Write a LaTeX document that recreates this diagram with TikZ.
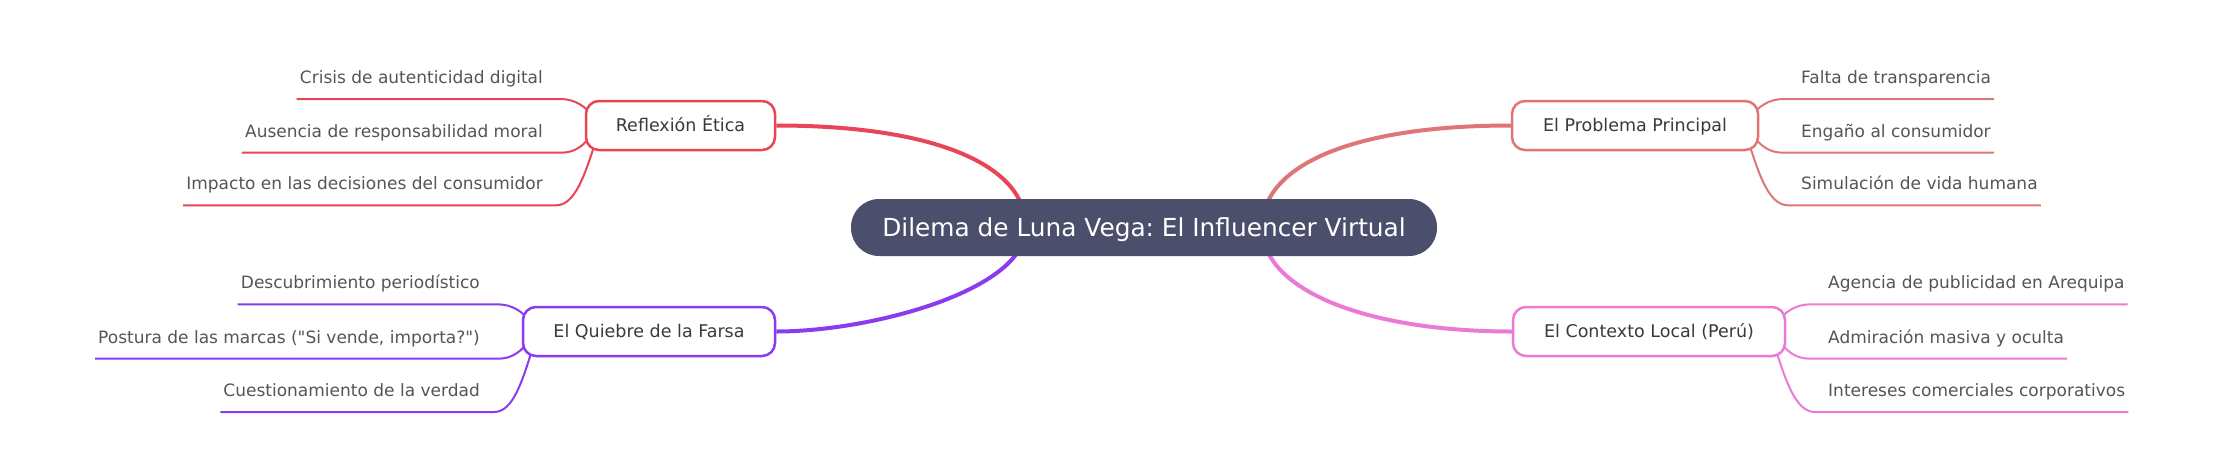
\documentclass[tikz,border=0pt]{standalone}
\usepackage{fontspec}
\setmainfont{DejaVu Sans}[Ligatures=TeXOff]
\frenchspacing
\usetikzlibrary{backgrounds}
\definecolor{cRed}{HTML}{E84557}
\definecolor{cSal}{HTML}{DF7676}
\definecolor{cPur}{HTML}{8A3BEF}
\definecolor{cPink}{HTML}{EC7AD4}
\definecolor{cRoot}{HTML}{4B4F6C}
\definecolor{cLeaf}{HTML}{555555}
\definecolor{cBoxT}{HTML}{3A3A3A}
\begin{document}
\begin{tikzpicture}[x=1pt,y=-1pt,
  rootnode/.style={fill=cRoot, draw=none, rounded corners=28pt, minimum width=586pt, minimum height=57pt, inner sep=0pt, text=white, font=\fontsize{24.8}{30}\selectfont, text height=18pt, text depth=0pt},
  branch/.style={draw=#1, fill=white, line width=2.5pt, rounded corners=13pt, minimum height=49pt, inner sep=0pt, text=cBoxT, font=\fontsize{17.5}{20}\selectfont, text height=12.7pt, text depth=0pt},
  leafl/.style={anchor=base east, inner sep=0pt, text=cLeaf, font=\fontsize{17}{20}\selectfont},
  leafr/.style={anchor=base west, inner sep=0pt, text=cLeaf, font=\fontsize{17}{20}\selectfont},
  mainedge/.style={draw=#1, line width=4pt},
  subedge/.style={draw=#1, line width=2pt},
]
\useasboundingbox (0,0) rectangle (2223,456);

% root and branches
\node[rootnode] (root) at (1144,227.5) {\frenchspacing Dilema de Luna Vega: El Influencer Virtual};
\node[branch=cRed, minimum width=189pt] (refl) at (680.5,125.5) {Reflexión Ética};
\node[branch=cPur, minimum width=252pt] (quie) at (649,331.5) {El Quiebre de la Farsa};
\node[branch=cSal, minimum width=246pt] (prob) at (1635,125.5) {El Problema Principal};
\node[branch=cPink, minimum width=272pt] (ctx) at (1649,331.5) {El Contexto Local (Perú)};

\coordinate (rootL) at (1026,227.5);
\coordinate (rootR) at (1262,227.5);

% leaves
\node[leafl] (l1) at (543,83.5) {Crisis de autenticidad digital};
\node[leafl] (l2) at (543,137.2) {Ausencia de responsabilidad moral};
\node[leafl] (l3) at (543,189.8) {Impacto en las decisiones del consumidor};
\node[leafl] (q1) at (480,288.8) {Descubrimiento periodístico};
\node[leafl] (q2) at (480,343.2) {\frenchspacing Postura de las marcas ("Si vende, importa?")};
\node[leafl] (q3) at (480,396.5) {Cuestionamiento de la verdad};
\node[leafr] (p1) at (1801,83.5) {Falta de transparencia};
\node[leafr] (p2) at (1801,137.2) {Engaño al consumidor};
\node[leafr] (p3) at (1801,189.8) {Simulación de vida humana};
\node[leafr] (c1) at (1828,288.8) {Agencia de publicidad en Arequipa};
\node[leafr] (c2) at (1828,343.2) {Admiración masiva y oculta};
\node[leafr] (c3) at (1828,396.5) {Intereses comerciales corporativos};

\begin{pgfonlayer}{background}
\fill[white] (0,0) rectangle (2223,456);
% main edges
\draw[mainedge=cRed] (refl.east) .. controls (935,125.5) and (1026,165) .. (rootL);
\draw[mainedge=cSal] (rootR) .. controls (1262,165) and (1353,125.5) .. (prob.west);
\draw[mainedge=cPur] (rootL) .. controls (1026,290) and (872,331.5) .. (quie.east);
\draw[mainedge=cPink] (rootR) .. controls (1262,290) and (1366,331.5) .. (ctx.west);

% Reflexion children
\draw[subedge=cRed] ([xshift=-3pt,yshift=-15.5pt]l1.base west) -- (560,99) .. controls (575,99) and (585,106) .. (595,118);
\draw[subedge=cRed] ([xshift=-3pt,yshift=-15.5pt]l2.base west) -- (561,152.7) .. controls (576,152.7) and (585,145) .. (595,130);
\draw[subedge=cRed] ([xshift=-3pt,yshift=-15.5pt]l3.base west) -- (556,205.3) .. controls (575,205.3) and (585,175) .. (596,140);
% Quiebre children
\draw[subedge=cPur] ([xshift=-3pt,yshift=-15.5pt]q1.base west) -- (497,304.3) .. controls (512,304.3) and (522,311) .. (532,323);
\draw[subedge=cPur] ([xshift=-3pt,yshift=-15.5pt]q2.base west) -- (498,358.7) .. controls (513,358.7) and (522,351) .. (532,337);
\draw[subedge=cPur] ([xshift=-3pt,yshift=-15.5pt]q3.base west) -- (494,412) .. controls (513,412) and (522,382) .. (533,347);
% Problema children
\draw[subedge=cSal] ([xshift=3pt,yshift=-15.5pt]p1.base east) -- (1784,99) .. controls (1769,99) and (1759,106) .. (1749,118);
\draw[subedge=cSal] ([xshift=3pt,yshift=-15.5pt]p2.base east) -- (1783,152.7) .. controls (1768,152.7) and (1759,145) .. (1749,130);
\draw[subedge=cSal] ([xshift=3pt,yshift=-15.5pt]p3.base east) -- (1788,205.3) .. controls (1769,205.3) and (1759,175) .. (1748,140);
% Contexto children
\draw[subedge=cPink] ([xshift=3pt,yshift=-15.5pt]c1.base east) -- (1811,304.3) .. controls (1796,304.3) and (1786,311) .. (1776,323);
\draw[subedge=cPink] ([xshift=3pt,yshift=-15.5pt]c2.base east) -- (1810,358.7) .. controls (1795,358.7) and (1786,351) .. (1776,337);
\draw[subedge=cPink] ([xshift=3pt,yshift=-15.5pt]c3.base east) -- (1815,412) .. controls (1796,412) and (1786,382) .. (1775,347);
\end{pgfonlayer}
\end{tikzpicture}
\end{document}
